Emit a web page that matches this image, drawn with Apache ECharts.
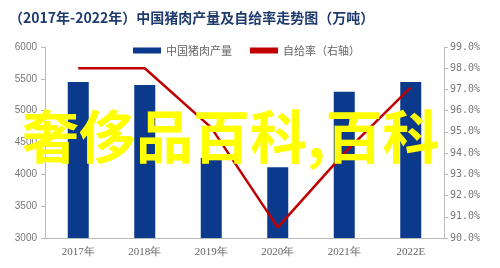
<!DOCTYPE html>
<html>
<head>
<meta charset="utf-8">
<script src="https://cdn.jsdelivr.net/npm/echarts@6/dist/echarts.min.js"></script>
<style>
html,body{margin:0;padding:0;background:#fff;}
#c{width:500px;height:268px;}
</style>
</head>
<body>
<div id="c"></div>
<script>
var categories = ['2017年','2018年','2019年','2020年','2021年','2022E'];
var production = [5452, 5404, 4255, 4113, 5296, 5450];
var selfRate = [98.0, 98.0, 95.2, 90.5, 94.0, 97.1];
var leftTicks = [3000, 6000, 500];
var rightTicks = [90, 99, 1];
var titleText = '（2017年-2022年）中国猪肉产量及自给率走势图（万吨）';
var watermark = '奢侈品百科,百科';

var chart = echarts.init(document.getElementById('c'));
chart.setOption({
  animation: false,
  backgroundColor: '#fff',
  title: {
    text: titleText,
    left: 4, top: 6,
    textStyle: {color: '#1f3a6e', fontSize: 14, fontWeight: 'bold', fontFamily: 'Noto Sans CJK SC'}
  },
  legend: {
    top: 40, left: 128,
    itemGap: 18,
    itemWidth: 28, itemHeight: 6,
    textStyle: {color: '#666', fontSize: 11, fontFamily: 'Noto Sans CJK SC'},
    data: [
      {name: '中国猪肉产量', icon: 'rect'},
      {name: '自给率（右轴）', icon: 'rect', itemStyle: {color: '#c00000'}}
    ]
  },
  grid: {left: 45, right: 56, top: 47, bottom: 30},
  xAxis: {
    type: 'category',
    data: categories,
    axisLine: {lineStyle: {color: '#bbb'}},
    axisTick: {show: false},
    axisLabel: {color: '#666', fontSize: 11, fontFamily: 'Liberation Serif', margin: 9}
  },
  yAxis: [
    {
      type: 'value', min: leftTicks[0], max: leftTicks[1], interval: leftTicks[2],
      axisLine: {show: true, lineStyle: {color: '#bbb'}},
      axisTick: {show: true, length: 4, lineStyle: {color: '#bbb'}},
      splitLine: {show: false},
      axisLabel: {color: '#777', fontSize: 10, fontFamily: 'Liberation Sans', margin: 8,
        formatter: function(v){ return String(v); }}
    },
    {
      type: 'value', min: rightTicks[0], max: rightTicks[1], interval: rightTicks[2],
      position: 'right',
      axisLine: {show: true, lineStyle: {color: '#bbb'}},
      axisTick: {show: true, length: 4, lineStyle: {color: '#bbb'}},
      splitLine: {show: false},
      axisLabel: {color: '#777', fontSize: 10, fontFamily: 'DejaVu Sans Mono', margin: 6,
        formatter: function(v){ return v.toFixed(1) + '%'; }}
    }
  ],
  series: [
    {
      name: '中国猪肉产量', type: 'bar', data: production,
      barWidth: 21,
      itemStyle: {color: '#0b3a8c'}
    },
    {
      name: '自给率（右轴）', type: 'line', yAxisIndex: 1, data: selfRate,
      symbol: 'none',
      lineStyle: {color: '#c00000', width: 2.5},
      itemStyle: {color: '#c00000'}
    }
  ],
  graphic: [
    {
      type: 'text', left: 22, top: 108, z: 100,
      style: {text: watermark, fill: '#ffff00', font: 'bold 57px "Noto Sans CJK SC"'}
    }
  ]
});
</script>
</body>
</html>
